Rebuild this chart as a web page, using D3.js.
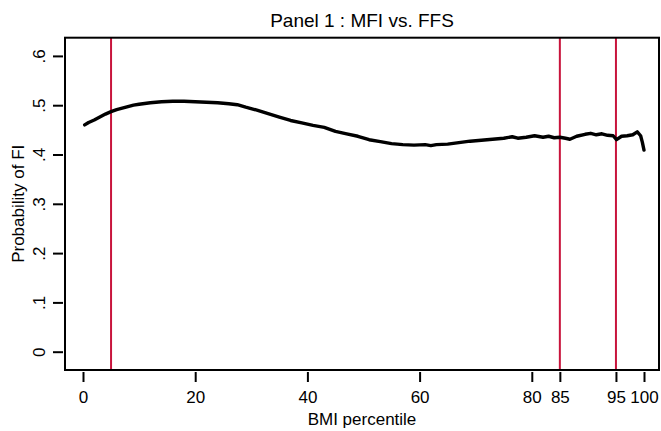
<!DOCTYPE html>
<html><head><meta charset="utf-8">
<script src="https://cdn.jsdelivr.net/npm/d3@7"></script>
<style>body{margin:0;background:#fff}text{font-family:"Liberation Sans",Arial,sans-serif;fill:#000}</style>
</head><body>
<svg id="c" width="661" height="431"></svg>
<script>
const pct = [0.3,1,2,3,4,5,6,7,8,9,10,12,14,16,18,20,22,24,26,27.5,29,31,33,35,37,39,41,43,45,47,49,51,53,55,57,59,61,62,63,65,67,69,71,73,75,76.5,77.5,79,80.5,82,83,84,85,86,86.8,88,89.5,90.5,91.5,92.5,93.5,94.5,95.1,96,97,98,98.8,99.4,99.7,100];
const prob = [.460,.465,.470,.476,.482,.487,.491,.494,.497,.500,.502,.505,.507,.508,.508,.507,.506,.505,.503,.501,.496,.490,.483,.476,.469,.464,.459,.455,.447,.442,.437,.430,.426,.422,.420,.419,.420,.418,.420,.421,.424,.427,.429,.431,.433,.436,.433,.435,.438,.435,.437,.434,.435,.433,.431,.437,.441,.443,.440,.442,.439,.438,.430,.437,.438,.440,.446,.438,.425,.409];
const cutoffs = [5,85,95];
const xTicks = [0,20,40,60,80,85,95,100];
const yTicks = [0,.1,.2,.3,.4,.5,.6];
const yTickLabels = ["0",".1",".2",".3",".4",".5",".6"];
const title = "Panel 1 : MFI vs. FFS";
const xTitle = "BMI percentile";
const yTitle = "Probability of FI";

const svg = d3.select("#c");
const frame = {l:65, r:659, t:37.7, b:370};
const x = d3.scaleLinear().domain([0,100]).range([83,644]);
const y = d3.scaleLinear().domain([0,.6]).range([351.7,55.9]);

svg.selectAll("line.cut").data(cutoffs).join("line")
  .attr("x1",d=>x(d)).attr("x2",d=>x(d)).attr("y1",frame.t).attr("y2",frame.b)
  .attr("stroke","#c8143c").attr("stroke-width",2);

svg.append("path").datum(pct.map((p,i)=>[p,prob[i]]))
  .attr("d",d3.line().x(d=>x(d[0])).y(d=>y(d[1])))
  .attr("fill","none").attr("stroke","#000").attr("stroke-width",3.4)
  .attr("stroke-linejoin","round").attr("stroke-linecap","round");

svg.append("rect").attr("x",frame.l).attr("y",frame.t).attr("width",frame.r-frame.l).attr("height",frame.b-frame.t)
  .attr("fill","none").attr("stroke","#000").attr("stroke-width",2);

const gx = svg.append("g").attr("transform",`translate(0,${frame.b+2})`)
  .call(d3.axisBottom(x).tickValues(xTicks).tickSize(10).tickFormat(d3.format("d")));
gx.select(".domain").remove();
gx.selectAll(".tick line").attr("stroke","#000").attr("stroke-width",2);
gx.selectAll(".tick text").attr("y",31).attr("dy",null)
  .style("font-size","17px").style("font-family","Liberation Sans, Arial").attr("fill","#000");

const gy = svg.append("g").attr("transform",`translate(${frame.l-2},0)`)
  .call(d3.axisLeft(y).tickValues(yTicks).tickSize(10).tickFormat((d,i)=>yTickLabels[i]));
gy.select(".domain").remove();
gy.selectAll(".tick line").attr("stroke","#000").attr("stroke-width",2);
gy.selectAll(".tick text").attr("x",null).attr("dy",null)
  .attr("text-anchor","middle")
  .attr("transform",`translate(-18,0) rotate(-90)`)
  .style("font-size","17px").style("font-family","Liberation Sans, Arial").attr("fill","#000");

svg.append("text").attr("text-anchor","middle")
  .attr("transform",`translate(${(frame.l+frame.r)/2},27)`)
  .style("font-size","19px").text(title);
svg.append("text").attr("text-anchor","middle")
  .attr("transform",`translate(${(frame.l+frame.r)/2},425)`)
  .style("font-size","17px").text(xTitle);
svg.append("text").attr("text-anchor","middle")
  .attr("transform",`translate(24,${y(0.3)}) rotate(-90)`)
  .style("font-size","17px").text(yTitle);
</script>
</body></html>
